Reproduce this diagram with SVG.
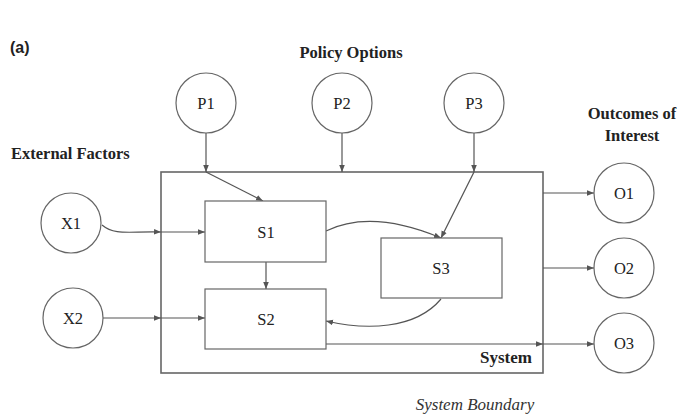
<svg xmlns="http://www.w3.org/2000/svg" width="678" height="416" viewBox="0 0 678 416">
<defs>
<marker id="ah" viewBox="0 0 10 10" refX="10" refY="5" markerWidth="7" markerHeight="7" markerUnits="userSpaceOnUse" orient="auto">
<path d="M0,1 L10,5 L0,9 Z" fill="#555"/>
</marker>
<style>
.n{fill:#fff;stroke:#666;stroke-width:1.2}
.b{fill:none;stroke:#666;stroke-width:1.6}
.c{fill:none;stroke:#555;stroke-width:1.2;marker-end:url(#ah)}
.t{font-family:"Liberation Serif","Times New Roman",serif;font-size:16.5px;fill:#222;text-anchor:middle}
.h{font-family:"Liberation Serif","Times New Roman",serif;font-size:16.5px;font-weight:bold;fill:#222}
</style>
</defs>
<rect width="678" height="416" fill="#fff"/>
<text x="10" y="53" font-family="Liberation Sans, Arial, sans-serif" font-size="16" font-weight="bold" fill="#222">(a)</text>
<text class="h" x="351" y="58" text-anchor="middle">Policy Options</text>
<text class="h" x="11" y="159">External Factors</text>
<text class="h" x="632" y="119" text-anchor="middle">Outcomes of</text>
<text class="h" x="632" y="141" text-anchor="middle">Interest</text>

<g id="system">
<rect class="b" x="161" y="172" width="382" height="201"/>
<text class="h" x="532" y="363" text-anchor="end" style="font-size:17px">System</text>
</g>
<text x="475" y="410" text-anchor="middle" font-family="Liberation Serif,'Times New Roman',serif" font-style="italic" font-size="17" fill="#333">System Boundary</text>

<g id="connectors">
<path class="c" d="M206,133 L206,172"/>
<path class="c" d="M206,172 L263,201"/>
<path class="c" d="M342,133 L342,172"/>
<path class="c" d="M474,133 L474,172"/>
<path class="c" d="M474,172 L441,238"/>
<path class="c" d="M102,225 C115,236 130,231 161,232"/>
<path class="c" d="M161,232 L205,232"/>
<path class="c" d="M103,318 L161,318"/>
<path class="c" d="M161,318 L205,318"/>
<path class="c" d="M266,262 L266,289"/>
<path class="c" d="M326,231 C365,212 410,225 441,238"/>
<path class="c" d="M441,299 C415,330 365,330 326,321"/>
<path class="c" d="M326,344 L543,344"/>
<path class="c" d="M543,344 L594,344"/>
<path class="c" d="M543,193 L594,193"/>
<path class="c" d="M543,268 L594,268"/>
</g>

<g id="P1"><circle class="n" cx="206" cy="103" r="30"/><text class="t" x="206" y="109">P1</text></g>
<g id="P2"><circle class="n" cx="342" cy="103" r="30"/><text class="t" x="342" y="109">P2</text></g>
<g id="P3"><circle class="n" cx="474" cy="103" r="30"/><text class="t" x="474" y="109">P3</text></g>
<g id="X1"><circle class="n" cx="71" cy="223" r="30"/><text class="t" x="71" y="229">X1</text></g>
<g id="X2"><circle class="n" cx="73" cy="318" r="30"/><text class="t" x="73" y="324">X2</text></g>
<g id="O1"><circle class="n" cx="624" cy="193" r="30"/><text class="t" x="624" y="199">O1</text></g>
<g id="O2"><circle class="n" cx="624" cy="268" r="30"/><text class="t" x="624" y="274">O2</text></g>
<g id="O3"><circle class="n" cx="624" cy="343" r="30"/><text class="t" x="624" y="349">O3</text></g>
<g id="S1"><rect class="n" x="205" y="201" width="121" height="61"/><text class="t" x="266" y="238">S1</text></g>
<g id="S2"><rect class="n" x="205" y="289" width="121" height="60"/><text class="t" x="266" y="325">S2</text></g>
<g id="S3"><rect class="n" x="381" y="238" width="121" height="60"/><text class="t" x="441" y="274">S3</text></g>
</svg>
